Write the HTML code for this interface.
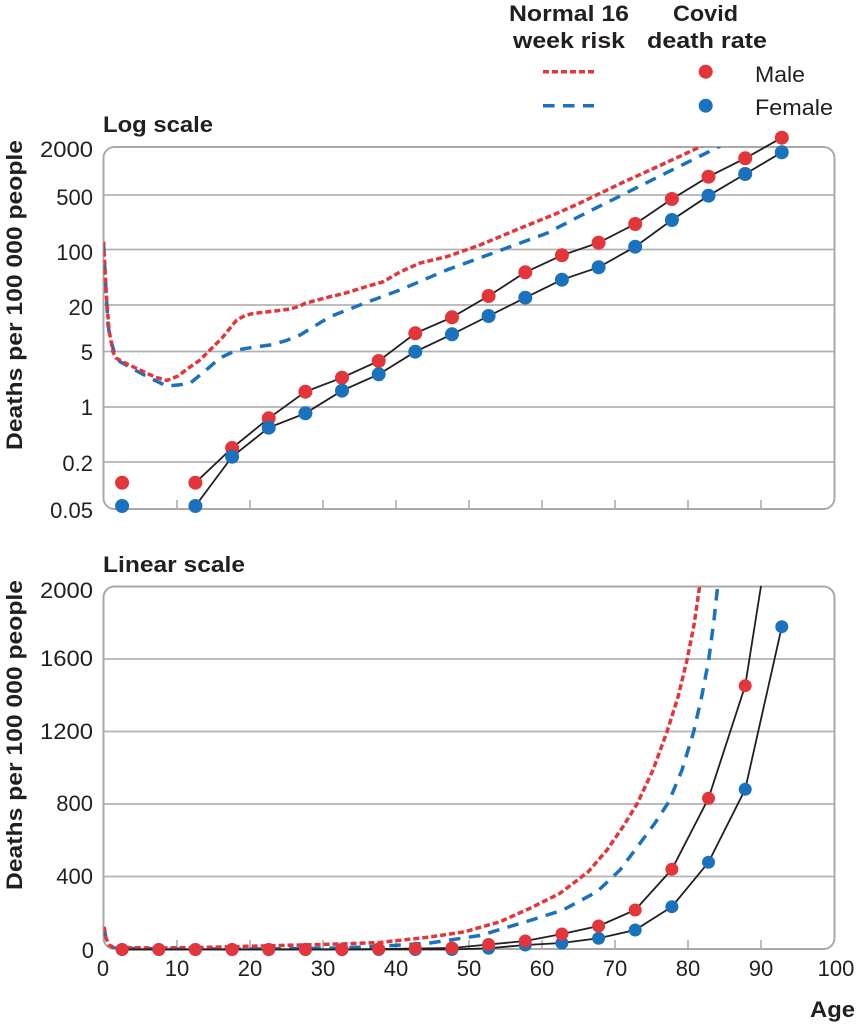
<!DOCTYPE html>
<html><head><meta charset="utf-8"><style>
html,body{margin:0;padding:0;background:#fff;}
svg{display:block;}
text{font-family:"Liberation Sans",sans-serif;fill:#231f20;}
.b{font-weight:bold;}
</style></head><body>
<svg width="857" height="1024" viewBox="0 0 857 1024" xmlns="http://www.w3.org/2000/svg">
<defs>
<clipPath id="c1"><rect x="103.5" y="147" width="731" height="362"/></clipPath>
<clipPath id="c2"><rect x="103.5" y="586.5" width="731" height="362.5"/></clipPath>
</defs>

<!-- Legend -->
<text class="b" x="569" y="21" font-size="22" text-anchor="middle" textLength="120" lengthAdjust="spacingAndGlyphs">Normal 16</text>
<text class="b" x="569" y="48" font-size="22" text-anchor="middle" textLength="112" lengthAdjust="spacingAndGlyphs">week risk</text>
<text class="b" x="705.5" y="21" font-size="22" text-anchor="middle" textLength="65" lengthAdjust="spacingAndGlyphs">Covid</text>
<text class="b" x="707" y="48" font-size="22" text-anchor="middle" textLength="120" lengthAdjust="spacingAndGlyphs">death rate</text>
<line x1="543" y1="71.7" x2="594" y2="71.7" stroke="#e2363b" stroke-width="3.5" stroke-dasharray="6,3"/>
<line x1="543" y1="105.7" x2="594" y2="105.7" stroke="#1a72bd" stroke-width="3.5" stroke-dasharray="11.5,8.5"/>
<circle cx="705.7" cy="71.7" r="7" fill="#e2363b"/>
<circle cx="705.7" cy="105.7" r="7" fill="#1a72bd"/>
<text x="755" y="82" font-size="22" fill="#333" textLength="50" lengthAdjust="spacingAndGlyphs">Male</text>
<text x="755" y="115" font-size="22" fill="#333" textLength="78" lengthAdjust="spacingAndGlyphs">Female</text>

<!-- ============ LOG CHART ============ -->
<text class="b" x="103" y="132" font-size="22" textLength="110" lengthAdjust="spacingAndGlyphs">Log scale</text>
<text class="b" transform="translate(22,295) rotate(-90)" font-size="22" text-anchor="middle" textLength="310" lengthAdjust="spacingAndGlyphs">Deaths per 100 000 people</text>

<g stroke="#b3b3b3" stroke-width="1.8">
<line x1="103.5" y1="195" x2="834.5" y2="195"/>
<line x1="103.5" y1="249.5" x2="834.5" y2="249.5"/>
<line x1="103.5" y1="305" x2="834.5" y2="305"/>
<line x1="103.5" y1="351.5" x2="834.5" y2="351.5"/>
<line x1="103.5" y1="407" x2="834.5" y2="407"/>
<line x1="103.5" y1="462" x2="834.5" y2="462"/>
</g>
<g stroke="#a9a9a9" stroke-width="1.5">
<line x1="177" y1="500" x2="177" y2="509"/>
<line x1="250" y1="500" x2="250" y2="509"/>
<line x1="323" y1="500" x2="323" y2="509"/>
<line x1="396" y1="500" x2="396" y2="509"/>
<line x1="469" y1="500" x2="469" y2="509"/>
<line x1="542" y1="500" x2="542" y2="509"/>
<line x1="615" y1="500" x2="615" y2="509"/>
<line x1="688" y1="500" x2="688" y2="509"/>
<line x1="761" y1="500" x2="761" y2="509"/>
</g>
<rect x="103.5" y="147" width="731" height="362" rx="11" ry="11" fill="none" stroke="#a9a9a9" stroke-width="2"/>

<g font-size="22" text-anchor="end" fill="#231f20">
<text x="93" y="157" textLength="53" lengthAdjust="spacingAndGlyphs">2000</text>
<text x="93" y="205">500</text>
<text x="93" y="260">100</text>
<text x="93" y="315">20</text>
<text x="93" y="360">5</text>
<text x="93" y="415">1</text>
<text x="93" y="471">0.2</text>
<text x="93" y="518">0.05</text>
</g>

<g clip-path="url(#c1)" fill="none" stroke-width="3.5">
<polyline stroke="#1a72bd" stroke-dasharray="11.5,8.5" points="103.5,241.7 106,290 108,325 110,337 115,355 120,361.7 135,370 150,378 166.7,386 178,385 190,383.3 205,371 220,358 236.7,350 255,347 270,345 285,341 300,335 330,316.7 365,303 400,290 446.7,270 496.7,251.7 546.7,233.3 580,216 620,196 660,176 720.3,146"/>
<polyline stroke="#e2363b" stroke-dasharray="6,3" points="103.5,241.7 106,290 109,330 113,352 116,358 125,363 140,370 155,377 166.7,380.5 178,376 190,367 200,360 210,350 222,338 236.7,320 245,315.5 253,313.5 275,311 290,309 300,306 305,303.3 325,298 346.7,292.7 365,287 383.3,281.7 400,272 420,263 446.7,256.7 480,245 520,228.3 557,213.3 580,203 623.7,182 660,165.5 702,146"/>
</g>

<g fill="none" stroke="#231f20" stroke-width="1.8">
<polyline points="195.4,482.7 232.1,448 268.7,418.3 305.4,391.7 342,377.7 378.7,361 415.3,333.3 452,317.3 488.6,296 525.3,272.3 561.9,255.3 598.6,242.7 635.2,224 671.9,199 708.5,176.7 745.2,158.3 781.8,137.7"/>
<polyline points="195.4,506 232.1,456.7 268.7,427.7 305.4,413.3 342,390.7 378.7,374.3 415.3,351.7 452,334.3 488.6,316 525.3,297.7 561.9,279.7 598.6,267.3 635.2,246.7 671.9,220 708.5,195.7 745.2,174 781.8,152.3"/>
</g>
<g fill="#e2363b">
<circle cx="122.1" cy="482.7" r="7"/>
<circle cx="195.4" cy="482.7" r="7"/>
<circle cx="232.1" cy="448" r="7"/>
<circle cx="268.7" cy="418.3" r="7"/>
<circle cx="305.4" cy="391.7" r="7"/>
<circle cx="342" cy="377.7" r="7"/>
<circle cx="378.7" cy="361" r="7"/>
<circle cx="415.3" cy="333.3" r="7"/>
<circle cx="452" cy="317.3" r="7"/>
<circle cx="488.6" cy="296" r="7"/>
<circle cx="525.3" cy="272.3" r="7"/>
<circle cx="561.9" cy="255.3" r="7"/>
<circle cx="598.6" cy="242.7" r="7"/>
<circle cx="635.2" cy="224" r="7"/>
<circle cx="671.9" cy="199" r="7"/>
<circle cx="708.5" cy="176.7" r="7"/>
<circle cx="745.2" cy="158.3" r="7"/>
<circle cx="781.8" cy="137.7" r="7"/>
</g>
<g fill="#1a72bd">
<circle cx="122.1" cy="506" r="7"/>
<circle cx="195.4" cy="506" r="7"/>
<circle cx="232.1" cy="456.7" r="7"/>
<circle cx="268.7" cy="427.7" r="7"/>
<circle cx="305.4" cy="413.3" r="7"/>
<circle cx="342" cy="390.7" r="7"/>
<circle cx="378.7" cy="374.3" r="7"/>
<circle cx="415.3" cy="351.7" r="7"/>
<circle cx="452" cy="334.3" r="7"/>
<circle cx="488.6" cy="316" r="7"/>
<circle cx="525.3" cy="297.7" r="7"/>
<circle cx="561.9" cy="279.7" r="7"/>
<circle cx="598.6" cy="267.3" r="7"/>
<circle cx="635.2" cy="246.7" r="7"/>
<circle cx="671.9" cy="220" r="7"/>
<circle cx="708.5" cy="195.7" r="7"/>
<circle cx="745.2" cy="174" r="7"/>
<circle cx="781.8" cy="152.3" r="7"/>
</g>

<!-- ============ LINEAR CHART ============ -->
<text class="b" x="103" y="572" font-size="22" textLength="142" lengthAdjust="spacingAndGlyphs">Linear scale</text>
<text class="b" transform="translate(22,735) rotate(-90)" font-size="22" text-anchor="middle" textLength="310" lengthAdjust="spacingAndGlyphs">Deaths per 100 000 people</text>

<g stroke="#b3b3b3" stroke-width="1.8">
<line x1="103.5" y1="659" x2="834.5" y2="659"/>
<line x1="103.5" y1="731.5" x2="834.5" y2="731.5"/>
<line x1="103.5" y1="804" x2="834.5" y2="804"/>
<line x1="103.5" y1="876.5" x2="834.5" y2="876.5"/>
</g>
<g stroke="#a9a9a9" stroke-width="1.5">
<line x1="177" y1="940" x2="177" y2="949"/>
<line x1="250" y1="940" x2="250" y2="949"/>
<line x1="323" y1="940" x2="323" y2="949"/>
<line x1="396" y1="940" x2="396" y2="949"/>
<line x1="469" y1="940" x2="469" y2="949"/>
<line x1="542" y1="940" x2="542" y2="949"/>
<line x1="615" y1="940" x2="615" y2="949"/>
<line x1="688" y1="940" x2="688" y2="949"/>
<line x1="761" y1="940" x2="761" y2="949"/>
</g>
<rect x="103.5" y="586.5" width="731" height="362.5" rx="11" ry="11" fill="none" stroke="#a9a9a9" stroke-width="2"/>

<g font-size="22" text-anchor="end" fill="#231f20">
<text x="93" y="598" textLength="53" lengthAdjust="spacingAndGlyphs">2000</text>
<text x="93" y="666" textLength="53" lengthAdjust="spacingAndGlyphs">1600</text>
<text x="93" y="739" textLength="53" lengthAdjust="spacingAndGlyphs">1200</text>
<text x="93" y="811">800</text>
<text x="93" y="884">400</text>
<text x="94" y="958">0</text>
</g>
<g font-size="22" text-anchor="middle" fill="#231f20">
<text x="103" y="976">0</text>
<text x="177" y="976">10</text>
<text x="250" y="976">20</text>
<text x="323" y="976">30</text>
<text x="396" y="976">40</text>
<text x="469" y="976">50</text>
<text x="542" y="976">60</text>
<text x="615" y="976">70</text>
<text x="688" y="976">80</text>
<text x="761" y="976">90</text>
<text x="836" y="976">100</text>
</g>
<text class="b" x="855" y="1017" font-size="22" text-anchor="end" textLength="45" lengthAdjust="spacingAndGlyphs">Age</text>

<g clip-path="url(#c2)" fill="none" stroke-width="3.5">
<polyline stroke="#1a72bd" stroke-dasharray="11.5,8.5" points="104,927 106,938 109,945 114,948 160,949 250,949 343,948 393,945.5 430,943 480,935.5 530,920.5 563,910 597,891.7 620,870 640,843.3 655,823 668.7,802 682,770 693.7,731.7 702,695 708.7,660 714,620 717.7,586"/>
<polyline stroke="#e2363b" stroke-dasharray="6,3" points="104,927 106,938 109,945 114,947.5 160,948 200,947.5 260,946 300,945 340,944 380,942.5 430,937 465,931.7 500,921.7 530,908.3 560,893.3 588,872 607,850 623,826.7 637,804 653,770 667,731.7 678,697 687,660 694,625 699.7,586"/>
</g>

<g fill="none" stroke="#231f20" stroke-width="1.8">
<polyline points="122.1,949.5 158.8,949.5 195.4,949.5 232.1,949.5 268.7,949.5 305.4,949.5 342,949.5 378.7,949.5 415.3,949.5 452,949.5 488.6,948.3 525.3,945 561.9,943 598.6,938.3 635.2,930 671.9,906.7 708.5,862.3 745.2,789.3 781.8,626.7"/>
<polyline points="122.1,949.5 158.8,949.5 195.4,949.5 232.1,949.5 268.7,949.5 305.4,949.5 342,949.5 378.7,949 415.3,948.5 452,948 488.6,944.5 525.3,941 561.9,934 598.6,926 635.2,910 671.9,869.3 708.5,798.3 745.2,685.7 761,586"/>
</g>
<g fill="#1a72bd">
<circle cx="122.1" cy="949.5" r="6.5"/>
<circle cx="158.8" cy="949.5" r="6.5"/>
<circle cx="195.4" cy="949.5" r="6.5"/>
<circle cx="232.1" cy="949.5" r="6.5"/>
<circle cx="268.7" cy="949.5" r="6.5"/>
<circle cx="305.4" cy="949.5" r="6.5"/>
<circle cx="342" cy="949.5" r="6.5"/>
<circle cx="378.7" cy="949.5" r="6.5"/>
<circle cx="415.3" cy="949.5" r="6.5"/>
<circle cx="452" cy="949.5" r="6.5"/>
<circle cx="488.6" cy="948.3" r="6.5"/>
<circle cx="525.3" cy="945" r="6.5"/>
<circle cx="561.9" cy="943" r="6.5"/>
<circle cx="598.6" cy="938.3" r="6.5"/>
<circle cx="635.2" cy="930" r="6.5"/>
<circle cx="671.9" cy="906.7" r="6.5"/>
<circle cx="708.5" cy="862.3" r="6.5"/>
<circle cx="745.2" cy="789.3" r="6.5"/>
<circle cx="781.8" cy="626.7" r="6.5"/>
</g>
<g fill="#e2363b">
<circle cx="122.1" cy="949.5" r="6.5"/>
<circle cx="158.8" cy="949.5" r="6.5"/>
<circle cx="195.4" cy="949.5" r="6.5"/>
<circle cx="232.1" cy="949.5" r="6.5"/>
<circle cx="268.7" cy="949.5" r="6.5"/>
<circle cx="305.4" cy="949.5" r="6.5"/>
<circle cx="342" cy="949.5" r="6.5"/>
<circle cx="378.7" cy="949" r="6.5"/>
<circle cx="415.3" cy="948.5" r="6.5"/>
<circle cx="452" cy="948" r="6.5"/>
<circle cx="488.6" cy="944.5" r="6.5"/>
<circle cx="525.3" cy="941" r="6.5"/>
<circle cx="561.9" cy="934" r="6.5"/>
<circle cx="598.6" cy="926" r="6.5"/>
<circle cx="635.2" cy="910" r="6.5"/>
<circle cx="671.9" cy="869.3" r="6.5"/>
<circle cx="708.5" cy="798.3" r="6.5"/>
<circle cx="745.2" cy="685.7" r="6.5"/>
</g>
</svg>
</body></html>
